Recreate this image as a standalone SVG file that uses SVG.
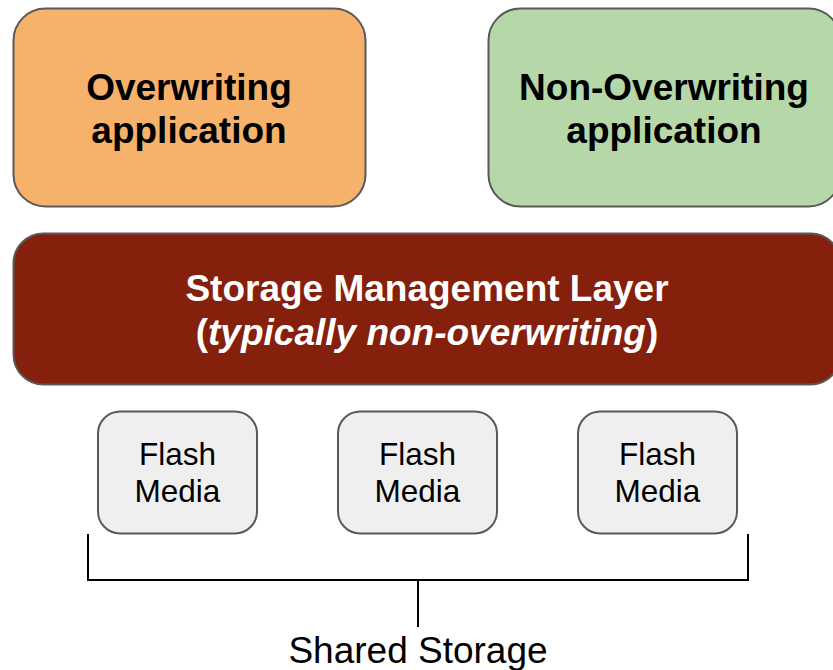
<svg xmlns="http://www.w3.org/2000/svg" width="833" height="670" viewBox="0 0 833 670">
<style>
.box{stroke:#595959;stroke-width:2}
.t{font-family:"Liberation Sans",Arial,sans-serif;text-anchor:middle}
.b{font-weight:bold;font-size:37px;fill:#000}
.w{font-weight:bold;font-size:37px;fill:#fff}
.f{font-size:31.5px;fill:#000}
.ln{stroke:#000;stroke-width:2;fill:none}
</style>
<rect width="833" height="670" fill="#fff"/>
<g id="overwriting">
<rect class="box" x="13.5" y="8.5" width="352" height="198" rx="32" fill="#f6b26b"/>
<text class="t b" x="189" y="100">Overwriting</text>
<text class="t b" x="189" y="143">application</text>
</g>
<g id="non-overwriting">
<rect class="box" x="488.5" y="8.5" width="352" height="198" rx="32" fill="#b6d7a8"/>
<text class="t b" x="664" y="100">Non-Overwriting</text>
<text class="t b" x="664" y="143">application</text>
</g>
<g id="storage-layer">
<rect class="box" x="13.5" y="233.5" width="827" height="151" rx="30" fill="#85200c"/>
<text class="t w" x="427" y="301">Storage Management Layer</text>
<text class="t w" x="427" y="345">(<tspan font-style="italic">typically non-overwriting</tspan>)</text>
</g>
<g id="flash1">
<rect class="box" x="98" y="411.5" width="159" height="122" rx="22" fill="#efefef"/>
<text class="t f" x="177.5" y="465">Flash</text>
<text class="t f" x="177.5" y="502">Media</text>
</g>
<g id="flash2">
<rect class="box" x="338" y="411.5" width="159" height="122" rx="22" fill="#efefef"/>
<text class="t f" x="417.5" y="465">Flash</text>
<text class="t f" x="417.5" y="502">Media</text>
</g>
<g id="flash3">
<rect class="box" x="578" y="411.5" width="159" height="122" rx="22" fill="#efefef"/>
<text class="t f" x="657.5" y="465">Flash</text>
<text class="t f" x="657.5" y="502">Media</text>
</g>
<g id="connectors">
<path class="ln" d="M88 534 V580 H748 V534 M418 580 V627"/>
</g>
<g id="shared-storage">
<text class="t" x="418" y="663" font-size="37" fill="#000">Shared Storage</text>
</g>
</svg>
